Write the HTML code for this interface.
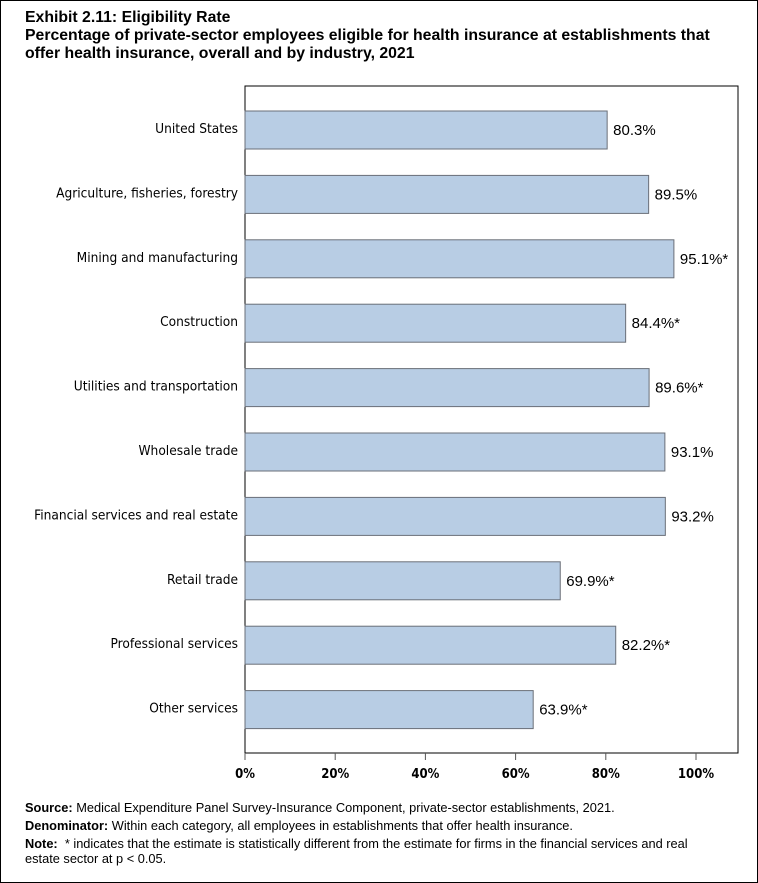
<!DOCTYPE html>
<html><head><meta charset="utf-8"><style>
body{margin:0;background:#fff;}
#wrap{position:relative;width:756px;height:881px;border:1px solid #000;background:#fff;font-family:"Liberation Sans",Arial,sans-serif;overflow:hidden}
.t{position:absolute;left:24px;font-size:15.8px;font-weight:bold;color:#000;line-height:18px}
.foot{position:absolute;left:24px;font-size:12.8px;line-height:15px;color:#000}
</style></head><body>
<div id="wrap">
<div class="t" style="top:8px">Exhibit 2.11: Eligibility Rate</div>
<div class="t" style="top:26px;width:700px">Percentage of private-sector employees eligible for health insurance at establishments that<br>offer health insurance, overall and by industry, 2021</div>
<svg id="chart" width="758" height="790" style="position:absolute;left:-1px;top:-1px"></svg>
<div class="foot" style="top:799px"><b>Source:</b> Medical Expenditure Panel Survey-Insurance Component, private-sector establishments, 2021.</div>
<div class="foot" style="top:817px"><b>Denominator:</b> Within each category, all employees in establishments that offer health insurance.</div>
<div class="foot" style="top:835px;width:690px"><b>Note:</b>&nbsp; * indicates that the estimate is statistically different from the estimate for firms in the financial services and real estate sector at p &lt; 0.05.</div>
</div>
<script>
const categories=["United States","Agriculture, fisheries, forestry","Mining and manufacturing","Construction","Utilities and transportation","Wholesale trade","Financial services and real estate","Retail trade","Professional services","Other services"];
const values=[80.3,89.5,95.1,84.4,89.6,93.1,93.2,69.9,82.2,63.9];
const labels=["80.3%","89.5%","95.1%*","84.4%*","89.6%*","93.1%","93.2%","69.9%*","82.2%*","63.9%*"];
const ticks=[0,20,40,60,80,100];
const tickLabels=["0%","20%","40%","60%","80%","100%"];
const svg=document.getElementById('chart');
const NS='http://www.w3.org/2000/svg';
const L=245,R=738,T=86,B=753;
const x=v=>L+v*4.51;
const step=64.4, y0=98;
const yc=i=>y0+i*step+32;
function mk(t,a){const e=document.createElementNS(NS,t);for(const k in a)e.setAttribute(k,a[k]);svg.appendChild(e);return e;}
const fr=mk('rect',{x:L,y:T,width:R-L,height:B-T,fill:'none',stroke:'#000','stroke-width':1});


categories.forEach((c,i)=>{
  const b=mk('rect',{x:L,y:yc(i)-19,width:x(values[i])-L,height:38,fill:'#b8cde4',stroke:'#6a6f78','stroke-width':1});
  
  
  const cl=mk('text',{x:238,y:yc(i)+3,'text-anchor':'end','font-size':13.6,fill:'#000','font-family':'DejaVu Sans Condensed, Liberation Sans, sans-serif'});
  cl.textContent=c;
  
  
  const vl=mk('text',{x:x(values[i])+6,y:yc(i)+5,'font-size':15,fill:'#000','font-family':'Liberation Sans, sans-serif'});
  vl.textContent=labels[i];
  
  
});
ticks.forEach((t,i)=>{
  const tk=mk('line',{x1:x(t),x2:x(t),y1:B,y2:B+7,stroke:'#555','stroke-width':1});
  
  
  const tl=mk('text',{x:x(t),y:B+25,'text-anchor':'middle','font-size':13,'font-weight':'bold',fill:'#000','font-family':'DejaVu Sans Condensed, Liberation Sans, sans-serif'});
  tl.textContent=tickLabels[i];
  
  
});
</script>
</body></html>
